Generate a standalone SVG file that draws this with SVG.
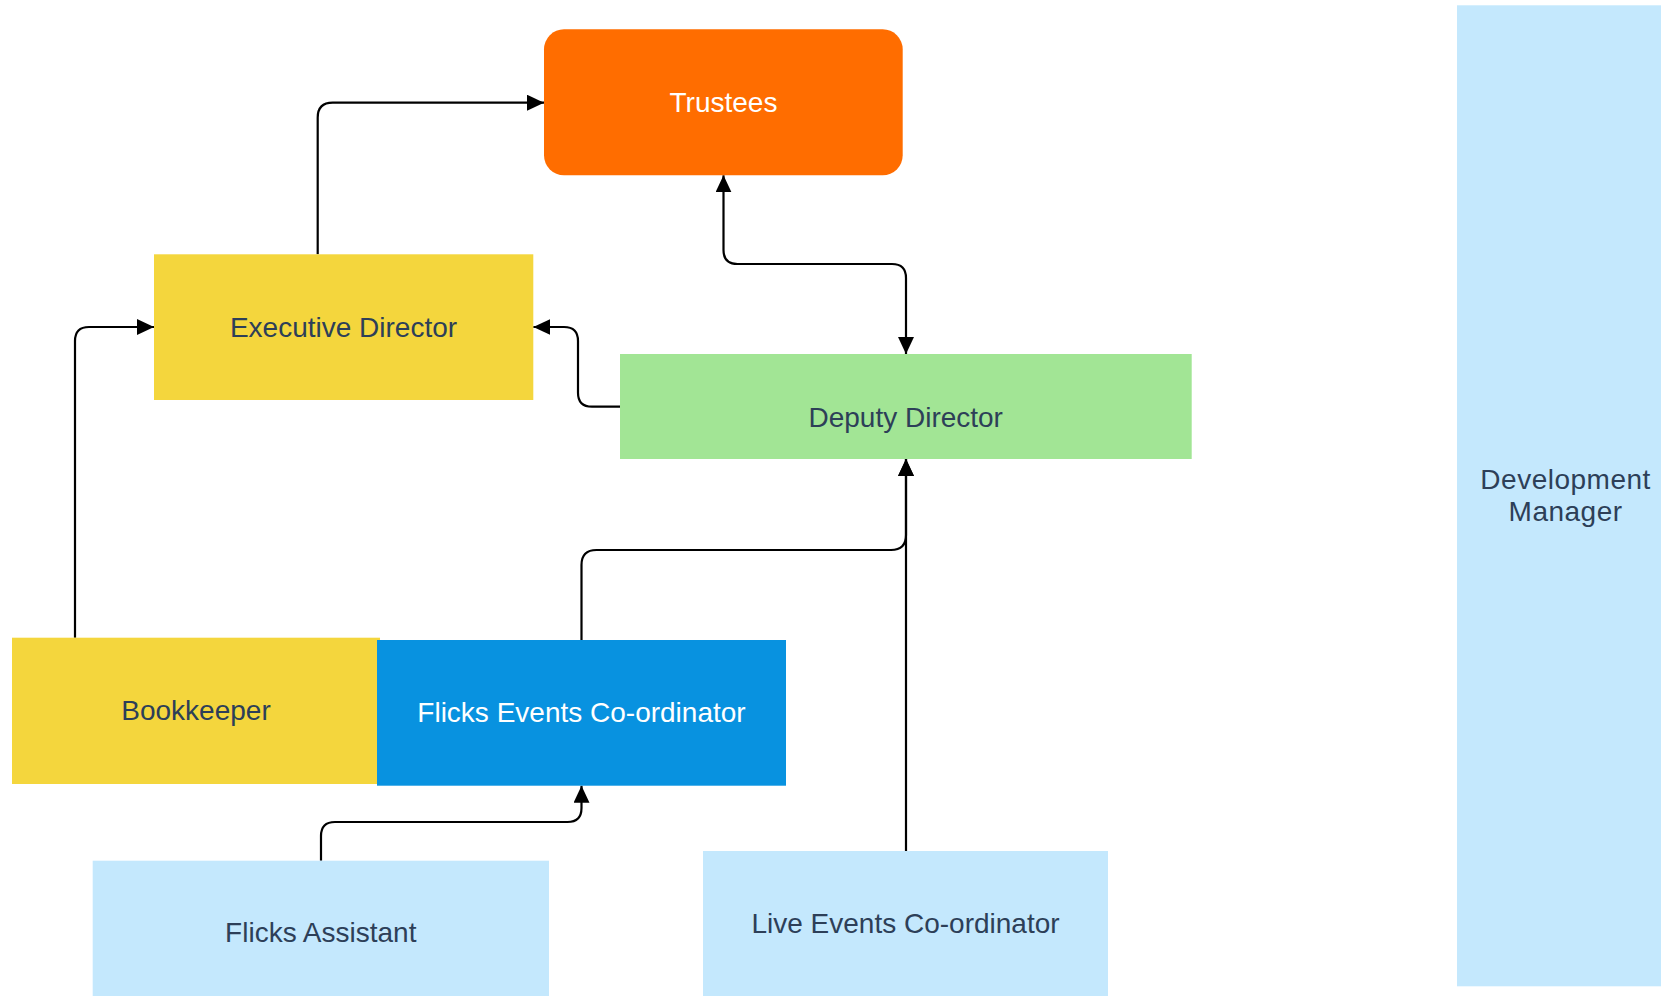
<svg xmlns="http://www.w3.org/2000/svg" width="1661" height="996" viewBox="0 0 1661 996">
<style>
.lbl{font-family:"Liberation Sans",Arial,sans-serif;font-size:28px;fill:#2d3f58;text-anchor:middle}
.wht{fill:#ffffff}
.con{fill:none;stroke:#000;stroke-width:2.2}
</style>
<defs>
<marker id="arr" markerWidth="18" markerHeight="18" refX="17" refY="8" orient="auto-start-reverse" markerUnits="userSpaceOnUse">
<path d="M0,0 L17,8 L0,16 z" fill="#000"/>
</marker>
</defs>
<rect width="1661" height="996" fill="#ffffff"/>
<g id="connectors">
<path class="con" d="M317.7,254.3 V117.7 Q317.7,102.7 332.7,102.7 H544" marker-end="url(#arr)"/>
<path class="con" d="M723.5,175.3 V250 Q723.5,264 737.5,264 H892 Q906,264 906,278 V354" marker-start="url(#arr)" marker-end="url(#arr)"/>
<path class="con" d="M620,406.7 H592 Q578,406.7 578,392.7 V341 Q578,327 564,327 H533.3" marker-end="url(#arr)"/>
<path class="con" d="M75,637.7 V341 Q75,327 89,327 H154" marker-end="url(#arr)"/>
<path class="con" d="M581.5,640 V565 Q581.5,550 596.5,550 H891 Q906,550 906,535 V459" marker-end="url(#arr)"/>
<path class="con" d="M906,851 V459" marker-end="url(#arr)"/>
<path class="con" d="M321,860.7 V836 Q321,822 335,822 H567.5 Q581.5,822 581.5,808 V785.7" marker-end="url(#arr)"/>
</g>
<g id="trustees">
<rect x="544" y="29.3" width="358.7" height="146" rx="20" fill="#ff6d00"/>
<text class="lbl wht" x="723.5" y="111.7">Trustees</text>
</g>
<g id="executive-director">
<rect x="154" y="254.3" width="379.3" height="145.7" fill="#f4d63d"/>
<text class="lbl" x="343.5" y="336.7">Executive Director</text>
</g>
<g id="deputy-director">
<rect x="620" y="354" width="571.7" height="105" fill="#a2e595"/>
<text class="lbl" x="905.7" y="426.7">Deputy Director</text>
</g>
<g id="bookkeeper">
<rect x="12" y="637.7" width="368" height="146.3" fill="#f4d63d"/>
<text class="lbl" x="196" y="720">Bookkeeper</text>
</g>
<g id="flicks-events-coordinator">
<rect x="377" y="640" width="409" height="145.7" fill="#0892e0"/>
<text class="lbl wht" x="581.5" y="721.7">Flicks Events Co-ordinator</text>
</g>
<g id="flicks-assistant">
<rect x="92.7" y="860.7" width="456.3" height="142" fill="#c4e8fd"/>
<text class="lbl" x="320.8" y="941.7">Flicks Assistant</text>
</g>
<g id="live-events-coordinator">
<rect x="703" y="851" width="405" height="145" fill="#c4e8fd"/>
<text class="lbl" x="905.5" y="932.6">Live Events Co-ordinator</text>
</g>
<g id="development-manager">
<rect x="1457" y="5.3" width="220" height="981" fill="#c4e8fd"/>
<text class="lbl" x="1565.6" y="488.5" style="letter-spacing:0.5px">Development</text>
<text class="lbl" x="1565.6" y="521.3" style="letter-spacing:0.5px">Manager</text>
</g>
</svg>
